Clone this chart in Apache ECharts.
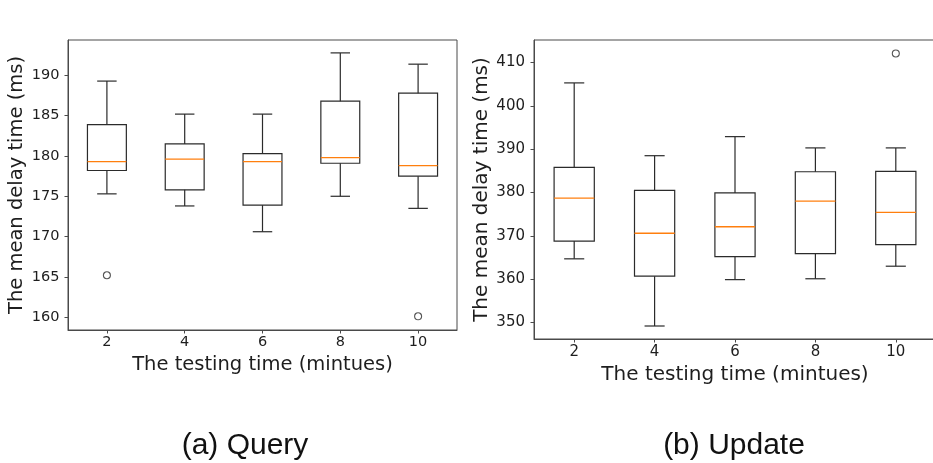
<!DOCTYPE html>
<html>
<head>
<meta charset="utf-8">
<script src="https://cdn.jsdelivr.net/npm/echarts@6/dist/echarts.min.js"></script>
<style>
  html, body { margin: 0; padding: 0; background: #fff; }
  #chart { width: 933px; height: 463px; }
</style>
</head>
<body>
<div id="chart"></div>
<script>
// ---- data ----
const categories = ['2', '4', '6', '8', '10'];

// [lower whisker, Q1, median, Q3, upper whisker]
const queryBoxes = [
  [175.3, 178.2, 179.3, 183.9, 189.3],
  [173.8, 175.8, 179.6, 181.5, 185.2],
  [170.6, 173.9, 179.3, 180.3, 185.2],
  [175.0, 179.1, 179.8, 186.8, 192.8],
  [173.5, 177.5, 178.8, 187.8, 191.4]
];
const queryOutliers = [[0, 165.2], [4, 160.1]];

const updateBoxes = [
  [364.7, 368.8, 378.7, 385.8, 405.3],
  [349.2, 360.7, 370.6, 380.5, 388.5],
  [359.9, 365.2, 372.1, 379.9, 392.9],
  [360.1, 365.9, 378.0, 384.8, 390.3],
  [363.0, 368.0, 375.4, 384.9, 390.3]
];
const updateOutliers = [[4, 412.1]];

const queryYTicks = [160, 165, 170, 175, 180, 185, 190];
const updateYTicks = [350, 360, 370, 380, 390, 400, 410];

// ---- styles ----
const lineColor = '#2b2b2b';
const frameColor = '#4a4a4a';
const textColor = '#1e1e1e';
const medianColor = '#ff7f0e';
const tickFont = 'DejaVu Sans';

function toRows(boxes) {
  return boxes.map((b, i) => [i].concat(b));
}

function renderBox(params, api) {
  const x = api.value(0);
  const pLow = api.coord([x, api.value(1)]);
  const pQ1 = api.coord([x, api.value(2)]);
  const pMed = api.coord([x, api.value(3)]);
  const pQ3 = api.coord([x, api.value(4)]);
  const pHigh = api.coord([x, api.value(5)]);
  const band = api.size([1, 0])[0];
  const half = band * 0.25;
  const capHalf = half * 0.5;
  const cx = pQ1[0];
  const ls = { stroke: lineColor, lineWidth: 1.2, fill: null };
  return {
    type: 'group',
    children: [
      { type: 'line', shape: { x1: cx, y1: pLow[1], x2: cx, y2: pQ1[1] }, style: ls },
      { type: 'line', shape: { x1: cx, y1: pQ3[1], x2: cx, y2: pHigh[1] }, style: ls },
      { type: 'line', shape: { x1: cx - capHalf, y1: pLow[1], x2: cx + capHalf, y2: pLow[1] }, style: ls },
      { type: 'line', shape: { x1: cx - capHalf, y1: pHigh[1], x2: cx + capHalf, y2: pHigh[1] }, style: ls },
      { type: 'rect', shape: { x: cx - half, y: pQ3[1], width: half * 2, height: pQ1[1] - pQ3[1] }, style: { stroke: lineColor, lineWidth: 1.2, fill: 'rgba(0,0,0,0)' } },
      { type: 'line', shape: { x1: cx - half, y1: pMed[1], x2: cx + half, y2: pMed[1] }, style: { stroke: medianColor, lineWidth: 1.3 } }
    ]
  };
}

function xAxisCfg(gridIndex, fontSize, nameSize, nameGap, labelMargin) {
  return {
    type: 'category',
    gridIndex: gridIndex,
    data: categories,
    boundaryGap: true,
    name: 'The testing time (mintues)',
    nameLocation: 'middle',
    nameGap: nameGap,
    nameTextStyle: { fontFamily: tickFont, fontSize: nameSize, color: textColor },
    axisLine: { show: true, lineStyle: { color: frameColor, width: 1 } },
    axisTick: { show: true, alignWithLabel: true, length: 3.5, lineStyle: { color: frameColor } },
    axisLabel: { fontFamily: tickFont, fontSize: fontSize, color: textColor, margin: labelMargin },
    splitLine: { show: false }
  };
}

function yAxisCfg(gridIndex, min, max, ticks, fontSize, nameSize, nameGap, labelMargin) {
  return {
    type: 'value',
    gridIndex: gridIndex,
    min: min,
    max: max,
    name: 'The mean delay time (ms)',
    nameLocation: 'middle',
    nameRotate: 90,
    nameGap: nameGap,
    nameTextStyle: { fontFamily: tickFont, fontSize: nameSize, color: textColor },
    axisLine: { show: true, lineStyle: { color: frameColor, width: 1 } },
    axisTick: { show: true, length: 3.5, customValues: ticks, lineStyle: { color: frameColor } },
    axisLabel: { fontFamily: tickFont, fontSize: fontSize, color: textColor, margin: labelMargin, customValues: ticks },
    splitLine: { show: false }
  };
}

const chart = echarts.init(document.getElementById('chart'), null, { renderer: 'canvas' });

chart.setOption({
  backgroundColor: '#ffffff',
  animation: false,
  title: [
    { text: '(a) Query', left: 245, top: 431, textAlign: 'center', padding: 0,
      textStyle: { fontFamily: 'Liberation Sans', fontSize: 30, fontWeight: 'normal', color: '#111' } },
    { text: '(b) Update', left: 734, top: 431, textAlign: 'center', padding: 0,
      textStyle: { fontFamily: 'Liberation Sans', fontSize: 30, fontWeight: 'normal', color: '#111' } }
  ],
  grid: [
    { left: 68, top: 40, width: 389, height: 290, show: true, borderColor: frameColor, borderWidth: 1,
      containLabel: false, outerBoundsMode: 'none' },
    { left: 534, top: 40, width: 402, height: 299, show: true, borderColor: frameColor, borderWidth: 1,
      containLabel: false, outerBoundsMode: 'none' }
  ],
  xAxis: [
    xAxisCfg(0, 14.5, 19.5, 25, 5),
    xAxisCfg(1, 15, 20, 26, 6)
  ],
  yAxis: [
    yAxisCfg(0, 158.4, 194.4, queryYTicks, 14.5, 19.5, 41, 8.5),
    yAxisCfg(1, 346.2, 415.2, updateYTicks, 15, 20, 42, 9)
  ],
  series: [
    { type: 'custom', xAxisIndex: 0, yAxisIndex: 0, renderItem: renderBox,
      encode: { x: 0, y: [1, 2, 3, 4, 5] }, data: toRows(queryBoxes), silent: true },
    { type: 'scatter', xAxisIndex: 0, yAxisIndex: 0, data: queryOutliers, symbol: 'circle', symbolSize: 7,
      itemStyle: { color: 'rgba(0,0,0,0)', borderColor: lineColor, borderWidth: 1.1 }, silent: true },
    { type: 'custom', xAxisIndex: 1, yAxisIndex: 1, renderItem: renderBox,
      encode: { x: 0, y: [1, 2, 3, 4, 5] }, data: toRows(updateBoxes), silent: true },
    { type: 'scatter', xAxisIndex: 1, yAxisIndex: 1, data: updateOutliers, symbol: 'circle', symbolSize: 7,
      itemStyle: { color: 'rgba(0,0,0,0)', borderColor: lineColor, borderWidth: 1.1 }, silent: true }
  ]
});
</script>
</body>
</html>
